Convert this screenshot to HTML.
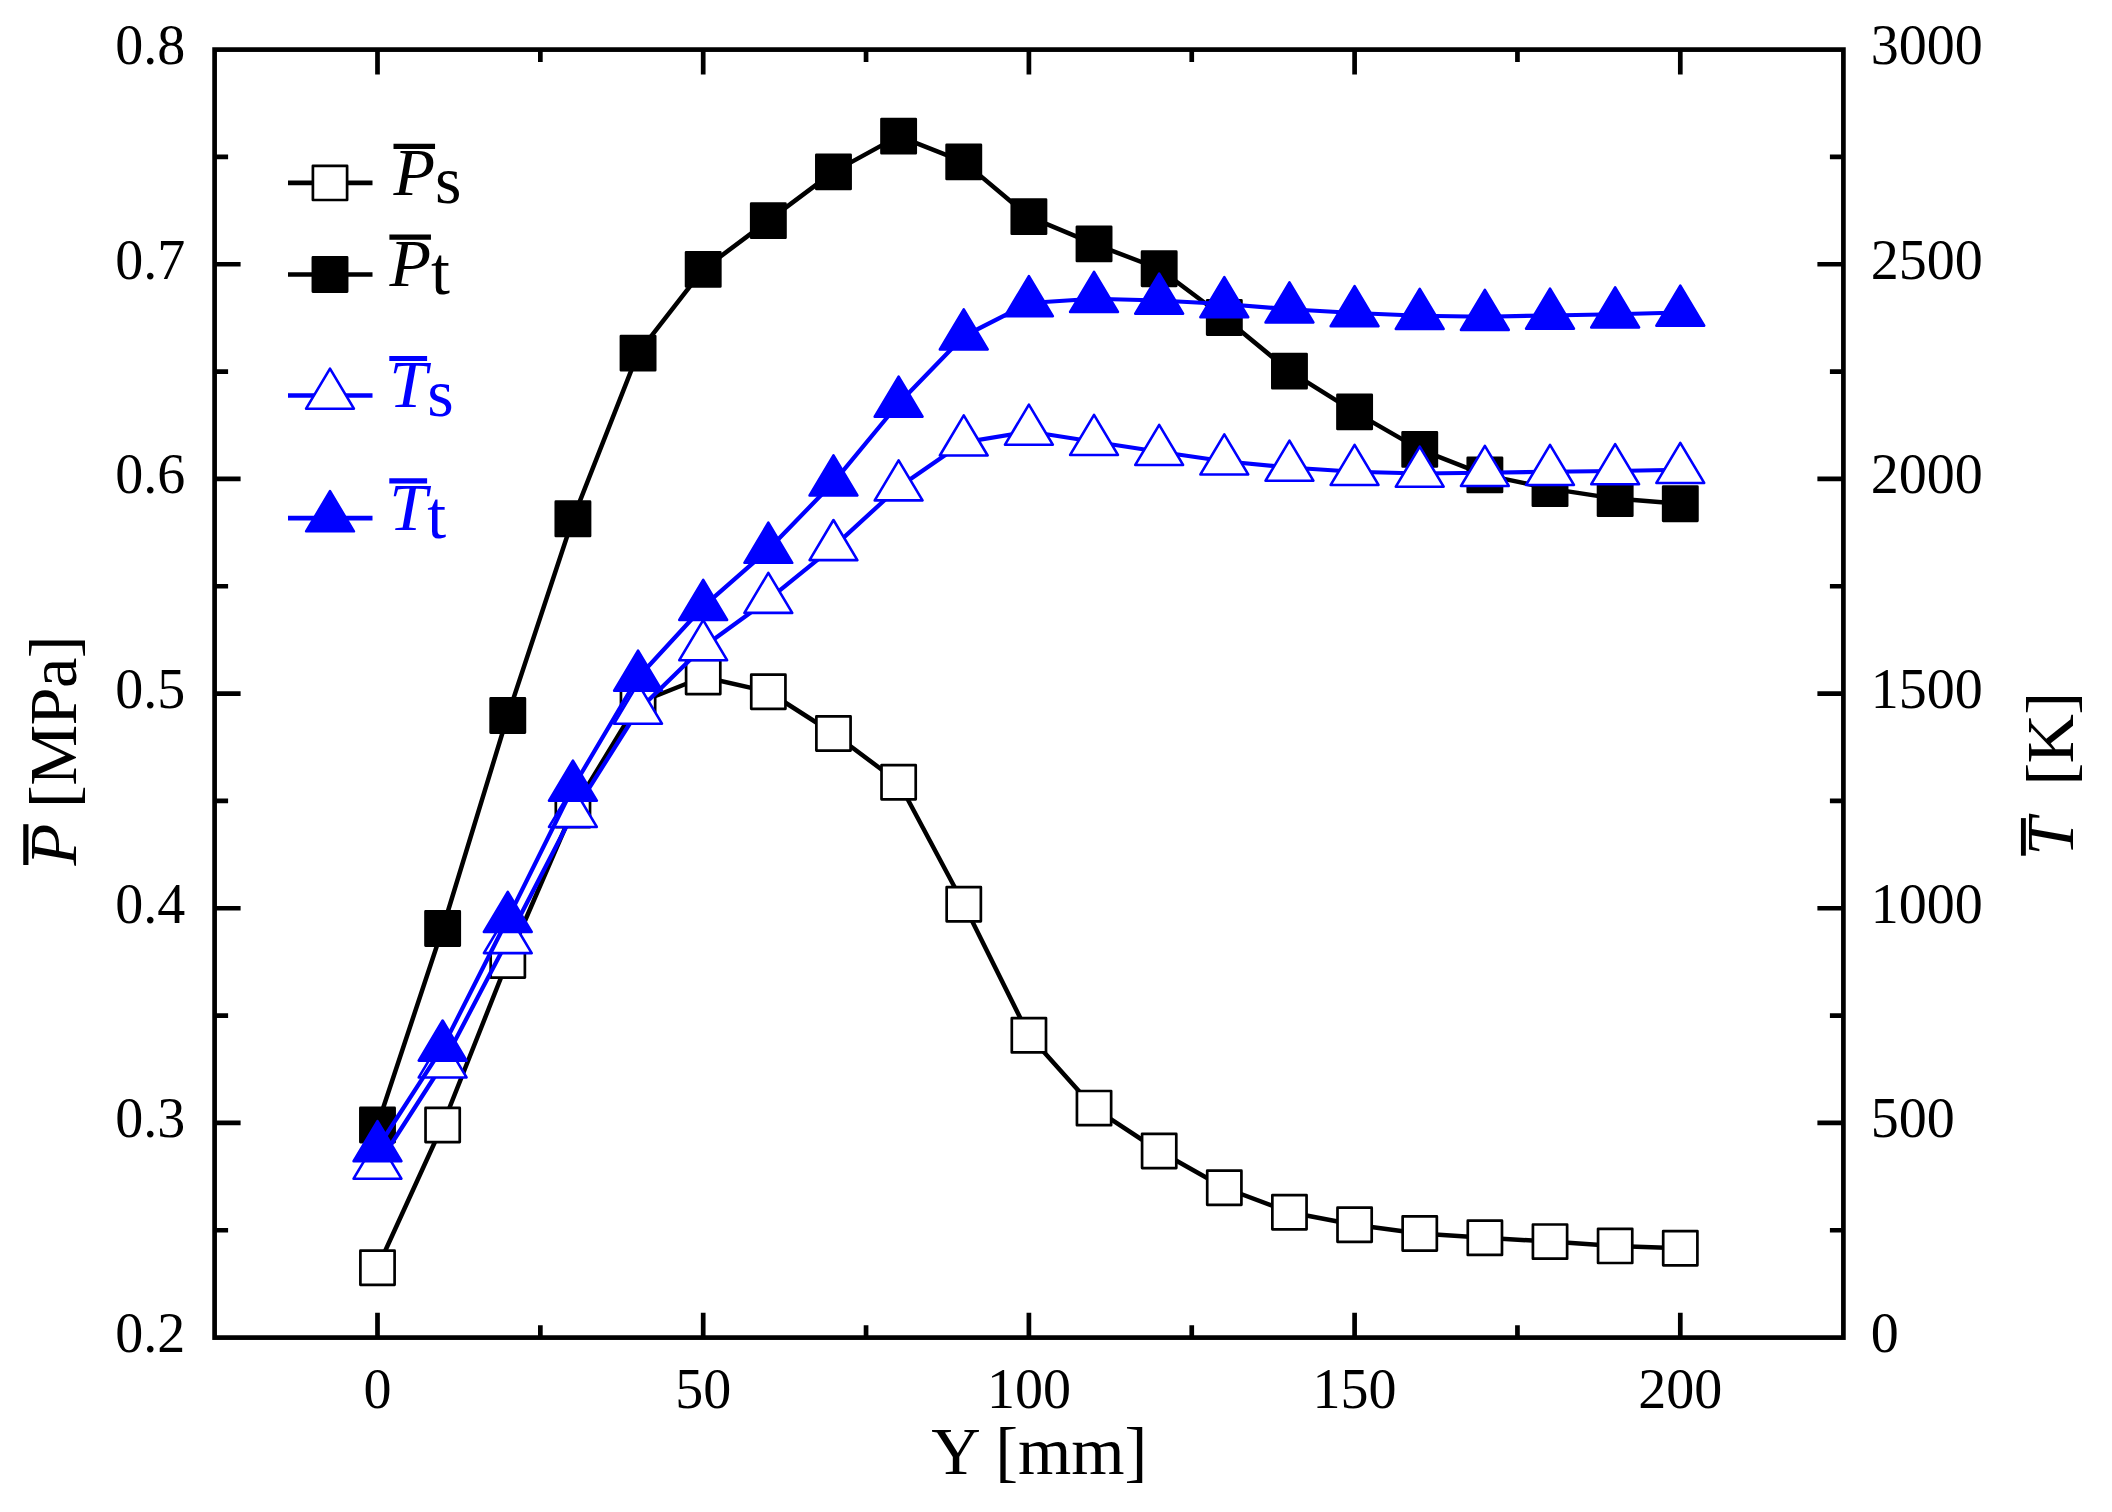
<!DOCTYPE html><html><head><meta charset="utf-8"><title>Chart</title><style>html,body{margin:0;padding:0;background:#fff}body{width:2112px;height:1512px;overflow:hidden}</style></head><body><svg width="2112" height="1512" viewBox="0 0 2112 1512" style="display:block">
<rect width="2112" height="1512" fill="#fff"/>
<g>
<polyline points="377.50,1267.75 442.64,1125.00 507.78,960.50 572.92,810.00 638.06,703.00 703.20,677.00 768.34,691.75 833.48,733.50 898.62,782.25 963.76,904.25 1028.90,1035.30 1094.04,1108.10 1159.18,1151.00 1224.32,1187.75 1289.46,1212.25 1354.60,1224.75 1419.74,1233.50 1484.88,1237.80 1550.02,1241.60 1615.16,1245.90 1680.30,1248.20" fill="none" stroke="#000" stroke-width="4.5" stroke-linejoin="round"/>
<rect x="360.40" y="1250.65" width="34.2" height="34.2" fill="#fff" stroke="#000" stroke-width="2.7" stroke-linejoin="round"/>
<rect x="425.54" y="1107.90" width="34.2" height="34.2" fill="#fff" stroke="#000" stroke-width="2.7" stroke-linejoin="round"/>
<rect x="490.68" y="943.40" width="34.2" height="34.2" fill="#fff" stroke="#000" stroke-width="2.7" stroke-linejoin="round"/>
<rect x="555.82" y="792.90" width="34.2" height="34.2" fill="#fff" stroke="#000" stroke-width="2.7" stroke-linejoin="round"/>
<rect x="620.96" y="685.90" width="34.2" height="34.2" fill="#fff" stroke="#000" stroke-width="2.7" stroke-linejoin="round"/>
<rect x="686.10" y="659.90" width="34.2" height="34.2" fill="#fff" stroke="#000" stroke-width="2.7" stroke-linejoin="round"/>
<rect x="751.24" y="674.65" width="34.2" height="34.2" fill="#fff" stroke="#000" stroke-width="2.7" stroke-linejoin="round"/>
<rect x="816.38" y="716.40" width="34.2" height="34.2" fill="#fff" stroke="#000" stroke-width="2.7" stroke-linejoin="round"/>
<rect x="881.52" y="765.15" width="34.2" height="34.2" fill="#fff" stroke="#000" stroke-width="2.7" stroke-linejoin="round"/>
<rect x="946.66" y="887.15" width="34.2" height="34.2" fill="#fff" stroke="#000" stroke-width="2.7" stroke-linejoin="round"/>
<rect x="1011.80" y="1018.20" width="34.2" height="34.2" fill="#fff" stroke="#000" stroke-width="2.7" stroke-linejoin="round"/>
<rect x="1076.94" y="1091.00" width="34.2" height="34.2" fill="#fff" stroke="#000" stroke-width="2.7" stroke-linejoin="round"/>
<rect x="1142.08" y="1133.90" width="34.2" height="34.2" fill="#fff" stroke="#000" stroke-width="2.7" stroke-linejoin="round"/>
<rect x="1207.22" y="1170.65" width="34.2" height="34.2" fill="#fff" stroke="#000" stroke-width="2.7" stroke-linejoin="round"/>
<rect x="1272.36" y="1195.15" width="34.2" height="34.2" fill="#fff" stroke="#000" stroke-width="2.7" stroke-linejoin="round"/>
<rect x="1337.50" y="1207.65" width="34.2" height="34.2" fill="#fff" stroke="#000" stroke-width="2.7" stroke-linejoin="round"/>
<rect x="1402.64" y="1216.40" width="34.2" height="34.2" fill="#fff" stroke="#000" stroke-width="2.7" stroke-linejoin="round"/>
<rect x="1467.78" y="1220.70" width="34.2" height="34.2" fill="#fff" stroke="#000" stroke-width="2.7" stroke-linejoin="round"/>
<rect x="1532.92" y="1224.50" width="34.2" height="34.2" fill="#fff" stroke="#000" stroke-width="2.7" stroke-linejoin="round"/>
<rect x="1598.06" y="1228.80" width="34.2" height="34.2" fill="#fff" stroke="#000" stroke-width="2.7" stroke-linejoin="round"/>
<rect x="1663.20" y="1231.10" width="34.2" height="34.2" fill="#fff" stroke="#000" stroke-width="2.7" stroke-linejoin="round"/>
<polyline points="377.50,1125.00 442.64,928.50 507.78,715.50 572.92,518.80 638.06,353.10 703.20,269.40 768.34,220.60 833.48,171.90 898.62,136.10 963.76,161.90 1028.90,216.60 1094.04,243.90 1159.18,268.75 1224.32,317.50 1289.46,371.10 1354.60,411.90 1419.74,449.40 1484.88,474.90 1550.02,488.60 1615.16,498.60 1680.30,503.70" fill="none" stroke="#000" stroke-width="4.5" stroke-linejoin="round"/>
<rect x="360.40" y="1107.90" width="34.2" height="34.2" fill="#000" stroke="#000" stroke-width="2.7" stroke-linejoin="round"/>
<rect x="425.54" y="911.40" width="34.2" height="34.2" fill="#000" stroke="#000" stroke-width="2.7" stroke-linejoin="round"/>
<rect x="490.68" y="698.40" width="34.2" height="34.2" fill="#000" stroke="#000" stroke-width="2.7" stroke-linejoin="round"/>
<rect x="555.82" y="501.70" width="34.2" height="34.2" fill="#000" stroke="#000" stroke-width="2.7" stroke-linejoin="round"/>
<rect x="620.96" y="336.00" width="34.2" height="34.2" fill="#000" stroke="#000" stroke-width="2.7" stroke-linejoin="round"/>
<rect x="686.10" y="252.30" width="34.2" height="34.2" fill="#000" stroke="#000" stroke-width="2.7" stroke-linejoin="round"/>
<rect x="751.24" y="203.50" width="34.2" height="34.2" fill="#000" stroke="#000" stroke-width="2.7" stroke-linejoin="round"/>
<rect x="816.38" y="154.80" width="34.2" height="34.2" fill="#000" stroke="#000" stroke-width="2.7" stroke-linejoin="round"/>
<rect x="881.52" y="119.00" width="34.2" height="34.2" fill="#000" stroke="#000" stroke-width="2.7" stroke-linejoin="round"/>
<rect x="946.66" y="144.80" width="34.2" height="34.2" fill="#000" stroke="#000" stroke-width="2.7" stroke-linejoin="round"/>
<rect x="1011.80" y="199.50" width="34.2" height="34.2" fill="#000" stroke="#000" stroke-width="2.7" stroke-linejoin="round"/>
<rect x="1076.94" y="226.80" width="34.2" height="34.2" fill="#000" stroke="#000" stroke-width="2.7" stroke-linejoin="round"/>
<rect x="1142.08" y="251.65" width="34.2" height="34.2" fill="#000" stroke="#000" stroke-width="2.7" stroke-linejoin="round"/>
<rect x="1207.22" y="300.40" width="34.2" height="34.2" fill="#000" stroke="#000" stroke-width="2.7" stroke-linejoin="round"/>
<rect x="1272.36" y="354.00" width="34.2" height="34.2" fill="#000" stroke="#000" stroke-width="2.7" stroke-linejoin="round"/>
<rect x="1337.50" y="394.80" width="34.2" height="34.2" fill="#000" stroke="#000" stroke-width="2.7" stroke-linejoin="round"/>
<rect x="1402.64" y="432.30" width="34.2" height="34.2" fill="#000" stroke="#000" stroke-width="2.7" stroke-linejoin="round"/>
<rect x="1467.78" y="457.80" width="34.2" height="34.2" fill="#000" stroke="#000" stroke-width="2.7" stroke-linejoin="round"/>
<rect x="1532.92" y="471.50" width="34.2" height="34.2" fill="#000" stroke="#000" stroke-width="2.7" stroke-linejoin="round"/>
<rect x="1598.06" y="481.50" width="34.2" height="34.2" fill="#000" stroke="#000" stroke-width="2.7" stroke-linejoin="round"/>
<rect x="1663.20" y="486.60" width="34.2" height="34.2" fill="#000" stroke="#000" stroke-width="2.7" stroke-linejoin="round"/>
<polyline points="377.50,1165.50 442.64,1064.25 507.78,939.90 572.92,813.75 638.06,710.50 703.20,647.00 768.34,599.70 833.48,546.90 898.62,487.20 963.76,442.30 1028.90,431.50 1094.04,441.75 1159.18,451.75 1224.32,461.25 1289.46,467.50 1354.60,471.75 1419.74,473.50 1484.88,472.75 1550.02,471.75 1615.16,471.00 1680.30,469.75" fill="none" stroke="#0000ff" stroke-width="4.25" stroke-linejoin="round"/>
<path d="M377.50 1138.60L401.40 1178.70L353.60 1178.70Z" fill="#fff" stroke="#0000ff" stroke-width="2.6" stroke-linejoin="round"/>
<path d="M442.64 1037.35L466.54 1077.45L418.74 1077.45Z" fill="#fff" stroke="#0000ff" stroke-width="2.6" stroke-linejoin="round"/>
<path d="M507.78 913.00L531.68 953.10L483.88 953.10Z" fill="#fff" stroke="#0000ff" stroke-width="2.6" stroke-linejoin="round"/>
<path d="M572.92 786.85L596.82 826.95L549.02 826.95Z" fill="#fff" stroke="#0000ff" stroke-width="2.6" stroke-linejoin="round"/>
<path d="M638.06 683.60L661.96 723.70L614.16 723.70Z" fill="#fff" stroke="#0000ff" stroke-width="2.6" stroke-linejoin="round"/>
<path d="M703.20 620.10L727.10 660.20L679.30 660.20Z" fill="#fff" stroke="#0000ff" stroke-width="2.6" stroke-linejoin="round"/>
<path d="M768.34 572.80L792.24 612.90L744.44 612.90Z" fill="#fff" stroke="#0000ff" stroke-width="2.6" stroke-linejoin="round"/>
<path d="M833.48 520.00L857.38 560.10L809.58 560.10Z" fill="#fff" stroke="#0000ff" stroke-width="2.6" stroke-linejoin="round"/>
<path d="M898.62 460.30L922.52 500.40L874.72 500.40Z" fill="#fff" stroke="#0000ff" stroke-width="2.6" stroke-linejoin="round"/>
<path d="M963.76 415.40L987.66 455.50L939.86 455.50Z" fill="#fff" stroke="#0000ff" stroke-width="2.6" stroke-linejoin="round"/>
<path d="M1028.90 404.60L1052.80 444.70L1005.00 444.70Z" fill="#fff" stroke="#0000ff" stroke-width="2.6" stroke-linejoin="round"/>
<path d="M1094.04 414.85L1117.94 454.95L1070.14 454.95Z" fill="#fff" stroke="#0000ff" stroke-width="2.6" stroke-linejoin="round"/>
<path d="M1159.18 424.85L1183.08 464.95L1135.28 464.95Z" fill="#fff" stroke="#0000ff" stroke-width="2.6" stroke-linejoin="round"/>
<path d="M1224.32 434.35L1248.22 474.45L1200.42 474.45Z" fill="#fff" stroke="#0000ff" stroke-width="2.6" stroke-linejoin="round"/>
<path d="M1289.46 440.60L1313.36 480.70L1265.56 480.70Z" fill="#fff" stroke="#0000ff" stroke-width="2.6" stroke-linejoin="round"/>
<path d="M1354.60 444.85L1378.50 484.95L1330.70 484.95Z" fill="#fff" stroke="#0000ff" stroke-width="2.6" stroke-linejoin="round"/>
<path d="M1419.74 446.60L1443.64 486.70L1395.84 486.70Z" fill="#fff" stroke="#0000ff" stroke-width="2.6" stroke-linejoin="round"/>
<path d="M1484.88 445.85L1508.78 485.95L1460.98 485.95Z" fill="#fff" stroke="#0000ff" stroke-width="2.6" stroke-linejoin="round"/>
<path d="M1550.02 444.85L1573.92 484.95L1526.12 484.95Z" fill="#fff" stroke="#0000ff" stroke-width="2.6" stroke-linejoin="round"/>
<path d="M1615.16 444.10L1639.06 484.20L1591.26 484.20Z" fill="#fff" stroke="#0000ff" stroke-width="2.6" stroke-linejoin="round"/>
<path d="M1680.30 442.85L1704.20 482.95L1656.40 482.95Z" fill="#fff" stroke="#0000ff" stroke-width="2.6" stroke-linejoin="round"/>
<polyline points="377.50,1148.00 442.64,1047.40 507.78,918.75 572.92,787.50 638.06,677.50 703.20,606.70 768.34,549.60 833.48,482.30 898.62,403.50 963.76,336.25 1028.90,303.00 1094.04,298.75 1159.18,300.50 1224.32,304.00 1289.46,309.25 1354.60,313.00 1419.74,315.75 1484.88,316.75 1550.02,315.50 1615.16,314.25 1680.30,312.50" fill="none" stroke="#0000ff" stroke-width="4.25" stroke-linejoin="round"/>
<path d="M377.50 1121.10L401.40 1161.20L353.60 1161.20Z" fill="#0000ff" stroke="#0000ff" stroke-width="2.6" stroke-linejoin="round"/>
<path d="M442.64 1020.50L466.54 1060.60L418.74 1060.60Z" fill="#0000ff" stroke="#0000ff" stroke-width="2.6" stroke-linejoin="round"/>
<path d="M507.78 891.85L531.68 931.95L483.88 931.95Z" fill="#0000ff" stroke="#0000ff" stroke-width="2.6" stroke-linejoin="round"/>
<path d="M572.92 760.60L596.82 800.70L549.02 800.70Z" fill="#0000ff" stroke="#0000ff" stroke-width="2.6" stroke-linejoin="round"/>
<path d="M638.06 650.60L661.96 690.70L614.16 690.70Z" fill="#0000ff" stroke="#0000ff" stroke-width="2.6" stroke-linejoin="round"/>
<path d="M703.20 579.80L727.10 619.90L679.30 619.90Z" fill="#0000ff" stroke="#0000ff" stroke-width="2.6" stroke-linejoin="round"/>
<path d="M768.34 522.70L792.24 562.80L744.44 562.80Z" fill="#0000ff" stroke="#0000ff" stroke-width="2.6" stroke-linejoin="round"/>
<path d="M833.48 455.40L857.38 495.50L809.58 495.50Z" fill="#0000ff" stroke="#0000ff" stroke-width="2.6" stroke-linejoin="round"/>
<path d="M898.62 376.60L922.52 416.70L874.72 416.70Z" fill="#0000ff" stroke="#0000ff" stroke-width="2.6" stroke-linejoin="round"/>
<path d="M963.76 309.35L987.66 349.45L939.86 349.45Z" fill="#0000ff" stroke="#0000ff" stroke-width="2.6" stroke-linejoin="round"/>
<path d="M1028.90 276.10L1052.80 316.20L1005.00 316.20Z" fill="#0000ff" stroke="#0000ff" stroke-width="2.6" stroke-linejoin="round"/>
<path d="M1094.04 271.85L1117.94 311.95L1070.14 311.95Z" fill="#0000ff" stroke="#0000ff" stroke-width="2.6" stroke-linejoin="round"/>
<path d="M1159.18 273.60L1183.08 313.70L1135.28 313.70Z" fill="#0000ff" stroke="#0000ff" stroke-width="2.6" stroke-linejoin="round"/>
<path d="M1224.32 277.10L1248.22 317.20L1200.42 317.20Z" fill="#0000ff" stroke="#0000ff" stroke-width="2.6" stroke-linejoin="round"/>
<path d="M1289.46 282.35L1313.36 322.45L1265.56 322.45Z" fill="#0000ff" stroke="#0000ff" stroke-width="2.6" stroke-linejoin="round"/>
<path d="M1354.60 286.10L1378.50 326.20L1330.70 326.20Z" fill="#0000ff" stroke="#0000ff" stroke-width="2.6" stroke-linejoin="round"/>
<path d="M1419.74 288.85L1443.64 328.95L1395.84 328.95Z" fill="#0000ff" stroke="#0000ff" stroke-width="2.6" stroke-linejoin="round"/>
<path d="M1484.88 289.85L1508.78 329.95L1460.98 329.95Z" fill="#0000ff" stroke="#0000ff" stroke-width="2.6" stroke-linejoin="round"/>
<path d="M1550.02 288.60L1573.92 328.70L1526.12 328.70Z" fill="#0000ff" stroke="#0000ff" stroke-width="2.6" stroke-linejoin="round"/>
<path d="M1615.16 287.35L1639.06 327.45L1591.26 327.45Z" fill="#0000ff" stroke="#0000ff" stroke-width="2.6" stroke-linejoin="round"/>
<path d="M1680.30 285.60L1704.20 325.70L1656.40 325.70Z" fill="#0000ff" stroke="#0000ff" stroke-width="2.6" stroke-linejoin="round"/>
</g>
<g stroke="#000" stroke-width="4.7" fill="none">
<rect x="214.6" y="49.6" width="1628.8000000000002" height="1288.0"/>
<path d="M214.6 1230.27h13.5M1843.4 1230.27h-13.5"/>
<path d="M214.6 1122.93h26M1843.4 1122.93h-26"/>
<path d="M214.6 1015.60h13.5M1843.4 1015.60h-13.5"/>
<path d="M214.6 908.27h26M1843.4 908.27h-26"/>
<path d="M214.6 800.93h13.5M1843.4 800.93h-13.5"/>
<path d="M214.6 693.60h26M1843.4 693.60h-26"/>
<path d="M214.6 586.27h13.5M1843.4 586.27h-13.5"/>
<path d="M214.6 478.93h26M1843.4 478.93h-26"/>
<path d="M214.6 371.60h13.5M1843.4 371.60h-13.5"/>
<path d="M214.6 264.27h26M1843.4 264.27h-26"/>
<path d="M214.6 156.93h13.5M1843.4 156.93h-13.5"/>
<path d="M377.50 1337.6v-24.8M377.50 49.6v24.8"/>
<path d="M540.35 1337.6v-12.3M540.35 49.6v12.3"/>
<path d="M703.20 1337.6v-24.8M703.20 49.6v24.8"/>
<path d="M866.05 1337.6v-12.3M866.05 49.6v12.3"/>
<path d="M1028.90 1337.6v-24.8M1028.90 49.6v24.8"/>
<path d="M1191.75 1337.6v-12.3M1191.75 49.6v12.3"/>
<path d="M1354.60 1337.6v-24.8M1354.60 49.6v24.8"/>
<path d="M1517.45 1337.6v-12.3M1517.45 49.6v12.3"/>
<path d="M1680.30 1337.6v-24.8M1680.30 49.6v24.8"/>
</g>
<g font-family="'Liberation Serif', serif" font-size="56" fill="#000">
<text x="185.3" y="1351.90" text-anchor="end">0.2</text>
<text x="185.3" y="1137.23" text-anchor="end">0.3</text>
<text x="185.3" y="922.57" text-anchor="end">0.4</text>
<text x="185.3" y="707.90" text-anchor="end">0.5</text>
<text x="185.3" y="493.23" text-anchor="end">0.6</text>
<text x="185.3" y="278.57" text-anchor="end">0.7</text>
<text x="185.3" y="63.90" text-anchor="end">0.8</text>
<text x="1870.8" y="1351.90">0</text>
<text x="1870.8" y="1137.23">500</text>
<text x="1870.8" y="922.57">1000</text>
<text x="1870.8" y="707.90">1500</text>
<text x="1870.8" y="493.23">2000</text>
<text x="1870.8" y="278.57">2500</text>
<text x="1870.8" y="63.90">3000</text>
<text x="377.50" y="1408" text-anchor="middle">0</text>
<text x="703.20" y="1408" text-anchor="middle">50</text>
<text x="1028.90" y="1408" text-anchor="middle">100</text>
<text x="1354.60" y="1408" text-anchor="middle">150</text>
<text x="1680.30" y="1408" text-anchor="middle">200</text>
</g>
<g font-family="'Liberation Serif', serif" font-size="68.5" fill="#000">
<text x="1039.3" y="1474" text-anchor="middle">Y [mm]</text>
<g transform="translate(76.2 865.5) rotate(-90)"><text x="0" y="0"><tspan font-style="italic">P</tspan><tspan x="57.5"> </tspan><tspan x="57.5" letter-spacing="-0.6">[MPa]</tspan></text><path d="M0.5 -50.35H41.3" stroke="#000" stroke-width="5.2"/></g>
<g transform="translate(2072.9 855.7) rotate(-90)"><text x="0" y="0"><tspan font-style="italic">T</tspan><tspan x="70.2"> </tspan><tspan x="70.2" letter-spacing="-0.7">[K]</tspan></text><path d="M0 -49.5H37.6" stroke="#000" stroke-width="4.9"/></g>
</g>
<g font-family="'Liberation Serif', serif" font-size="68">
<path d="M288 182.9H372.5" stroke="#000" stroke-width="4.6"/>
<rect x="312.90" y="165.80" width="34.2" height="34.2" fill="#fff" stroke="#000" stroke-width="2.7" stroke-linejoin="round"/>
<text x="393.5" y="195" fill="#000"><tspan font-style="italic">P</tspan><tspan dy="8.3">s</tspan></text>
<path d="M393.5 146.30h41.55" stroke="#000" stroke-width="5.2"/>
<path d="M288 274.5H372.5" stroke="#000" stroke-width="4.6"/>
<rect x="312.90" y="257.40" width="34.2" height="34.2" fill="#000" stroke="#000" stroke-width="2.7" stroke-linejoin="round"/>
<text x="389.4" y="285.9" fill="#000"><tspan font-style="italic">P</tspan><tspan dy="8.3">t</tspan></text>
<path d="M389.4 237.20h41.55" stroke="#000" stroke-width="5.2"/>
<path d="M288 395.5H372.5" stroke="#0000ff" stroke-width="4.6"/>
<path d="M330.00 368.60L353.90 408.70L306.10 408.70Z" fill="#fff" stroke="#0000ff" stroke-width="2.6" stroke-linejoin="round"/>
<text x="389.3" y="407.2" fill="#0000ff"><tspan font-style="italic">T</tspan><tspan dy="8.3">s</tspan></text>
<path d="M389.3 358.50h37.81" stroke="#0000ff" stroke-width="5.2"/>
<path d="M288 518.1H372.5" stroke="#0000ff" stroke-width="4.6"/>
<path d="M330.00 491.20L353.90 531.30L306.10 531.30Z" fill="#0000ff" stroke="#0000ff" stroke-width="2.6" stroke-linejoin="round"/>
<text x="389.3" y="529.6" fill="#0000ff"><tspan font-style="italic">T</tspan><tspan dy="8.3">t</tspan></text>
<path d="M389.3 480.90h37.81" stroke="#0000ff" stroke-width="5.2"/>
</g>
</svg></body></html>
